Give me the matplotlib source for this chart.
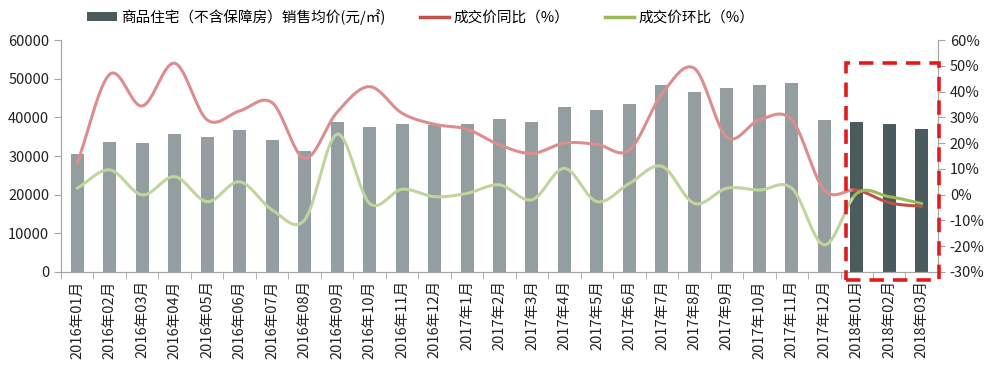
import numpy as np
import matplotlib
matplotlib.use("Agg")
import matplotlib.pyplot as plt
from matplotlib.patches import Rectangle, Patch
from matplotlib.lines import Line2D

plt.rcParams['font.family'] = ['Noto Sans CJK SC', 'DejaVu Sans']

# data
months = ['2016年01月', '2016年02月', '2016年03月', '2016年04月', '2016年05月', '2016年06月',
          '2016年07月', '2016年08月', '2016年09月', '2016年10月', '2016年11月', '2016年12月',
          '2017年1月', '2017年2月', '2017年3月', '2017年4月', '2017年5月', '2017年6月',
          '2017年7月', '2017年8月', '2017年9月', '2017年10月', '2017年11月', '2017年12月',
          '2018年01月', '2018年02月', '2018年03月']
price = [30500, 33600, 33350, 35700, 34900, 36700, 34100, 31300, 38800, 37500, 38200, 38000,
         38200, 39500, 38800, 42700, 41900, 43400, 48400, 46500, 47600, 48400, 48900, 39300,
         38800, 38300, 37000]
yoy = [12.2, 46.7, 34.4, 51.0, 29.0, 32.5, 35.7, 14.1, 32.0, 41.9, 31.6, 27.3,
       25.4, 19.3, 16.0, 20.0, 19.5, 17.3, 39.0, 49.0, 22.3, 29.0, 29.0, 1.8,
       1.8, -3.1, -4.6]
mom = [2.5, 9.6, -0.1, 7.0, -2.7, 5.0, -5.9, -9.8, 23.5, -3.4, 2.1, -0.8,
       0.5, 3.8, -2.0, 10.2, -2.7, 4.4, 11.0, -3.4, 2.5, 1.8, 2.5, -19.5,
       0.5, -0.8, -3.4]
n_hi = 3  # last months highlighted

bar_light, bar_dark = '#949ea1', '#4b5a5c'
red_light, red_dark = '#dc8e8e', '#c0504d'
green_light, green_dark = '#bed69c', '#9bbb59'
axis_grey = '#a6a6a6'


def smooth(x, y, steps=20):
    # catmull-rom curve through the points, like excel's smoothed line
    x = np.asarray(x, float)
    y = np.asarray(y, float)
    px = np.concatenate([[2 * x[0] - x[1]], x, [2 * x[-1] - x[-2]]])
    py = np.concatenate([[2 * y[0] - y[1]], y, [2 * y[-1] - y[-2]]])
    xs, ys = [], []
    t = np.linspace(0, 1, steps, endpoint=False)
    for i in range(1, len(px) - 2):
        for arr, out in ((px, xs), (py, ys)):
            p0, p1, p2, p3 = arr[i - 1], arr[i], arr[i + 1], arr[i + 2]
            out.append(0.5 * (2 * p1 + (-p0 + p2) * t + (2 * p0 - 5 * p1 + 4 * p2 - p3) * t ** 2
                              + (-p0 + 3 * p1 - 3 * p2 + p3) * t ** 3))
    xs.append([x[-1]])
    ys.append([y[-1]])
    return np.concatenate(xs), np.concatenate(ys)


fig = plt.figure(figsize=(9.97, 3.76), dpi=100)
ax = fig.add_axes([0.0612, 0.2766, 0.8796, 0.617])
ax2 = ax.twinx()

x = np.arange(len(months))
colors = [bar_light] * (len(months) - n_hi) + [bar_dark] * n_hi
ax.bar(x, price, width=0.4, color=colors, zorder=2)

cut = len(months) - n_hi
for vals, c_light, c_dark in ((yoy, red_light, red_dark), (mom, green_light, green_dark)):
    sx, sy = smooth(x, vals)
    light = sx <= cut - 0.1
    ax2.plot(sx[light], sy[light], color=c_light, lw=2.2, solid_capstyle='round', zorder=3)
    dark = sx >= cut - 0.1
    ax2.plot(sx[dark], sy[dark], color=c_dark, lw=2.2, solid_capstyle='round', zorder=4)

ax.set_xlim(-0.5, len(months) - 0.5)
ax.set_ylim(0, 60000)
ax.set_yticks(np.arange(0, 60001, 10000))
ax2.set_ylim(-30, 60)
ax2.set_yticks(np.arange(-30, 61, 10))
ax2.set_yticklabels([f'{v}%' for v in range(-30, 61, 10)])

ax.set_xticks(x)
ax.set_xticklabels(months, rotation=90)
ax.set_xticks(np.arange(-0.5, len(months), 1), minor=True)
ax.tick_params(axis='x', which='major', length=0, pad=6, labelsize=10.5, colors='#222222')
ax.tick_params(axis='x', which='minor', length=5, color=axis_grey)
ax.tick_params(axis='y', length=5, color=axis_grey, labelsize=10.5, labelcolor='#222222')
ax2.tick_params(axis='y', length=5, color=axis_grey, labelsize=10.5, labelcolor='#222222')

for a in (ax, ax2):
    a.spines['top'].set_visible(False)
    for s in ('left', 'right', 'bottom'):
        a.spines[s].set_color(axis_grey)

# red dashed highlight box round the last three months
rect = Rectangle((cut - 0.32, -33), 2.84, 84, transform=ax2.transData, fill=False,
                 edgecolor='#e31a1c', lw=2.6, ls=(0, (4, 2.5)), clip_on=False, zorder=6)
ax2.add_patch(rect)

handles = [Patch(facecolor=bar_dark),
           Line2D([], [], color=red_dark, lw=2.5),
           Line2D([], [], color=green_dark, lw=2.5)]
labels = ['商品住宅（不含保障房）销售均价(元/㎡)', '成交价同比（%）', '成交价环比（%）']
fig.legend(handles, labels, loc='center', bbox_to_anchor=(0.422, 0.955), ncol=3, frameon=False,
           fontsize=10.5, handlelength=2.0, handleheight=0.6, columnspacing=2.4, handletextpad=0.3)

fig.savefig('out.png', dpi=100)
